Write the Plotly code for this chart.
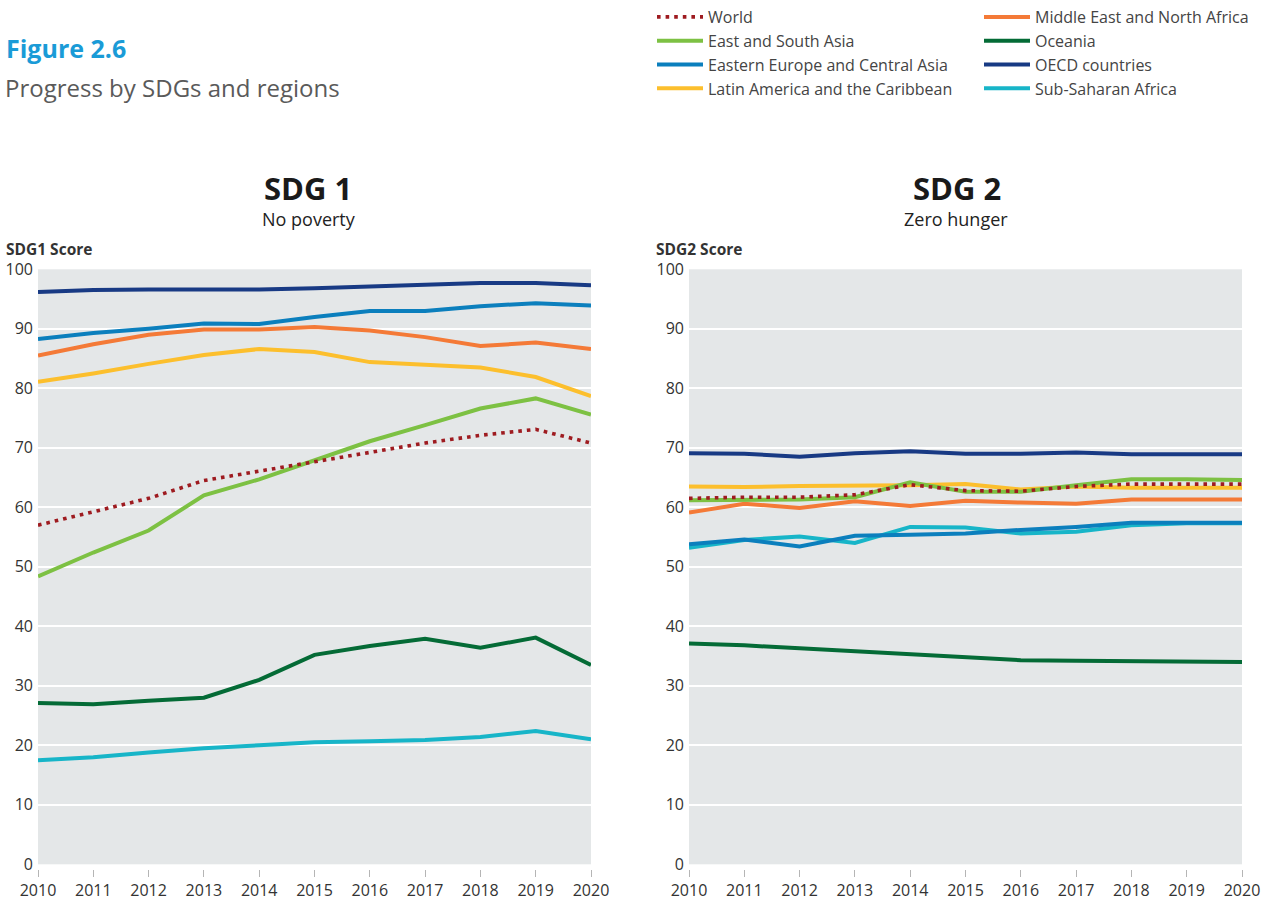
import plotly.graph_objects as go

years = list(range(2010, 2021))
tick_years = [2010, 2011, 2012, 2013, 2014, 2015, 2016, 2017, 2018, 2019, 2020]
y_ticks = [0, 10, 20, 30, 40, 50, 60, 70, 80, 90, 100]

regions = [
    "World",
    "East and South Asia",
    "Eastern Europe and Central Asia",
    "Latin America and the Caribbean",
    "Middle East and North Africa",
    "Oceania",
    "OECD countries",
    "Sub-Saharan Africa",
]

colors = {
    "World": "#9e1b20",
    "East and South Asia": "#7dc143",
    "Eastern Europe and Central Asia": "#0b7fbd",
    "Latin America and the Caribbean": "#fcbf2d",
    "Middle East and North Africa": "#f47a37",
    "Oceania": "#046b36",
    "OECD countries": "#183a84",
    "Sub-Saharan Africa": "#17b5c8",
}

# SDG 1 - No poverty
sdg1_world = [57.0, 59.2, 61.5, 64.5, 66.1, 67.7, 69.2, 70.8, 72.1, 73.1, 70.8]
sdg1_esa = [48.4, 52.4, 56.1, 62.0, 64.7, 67.9, 71.1, 73.8, 76.6, 78.3, 75.6]
sdg1_eeca = [88.3, 89.3, 90.0, 90.9, 90.8, 92.0, 93.0, 93.0, 93.8, 94.3, 93.9]
sdg1_lac = [81.1, 82.5, 84.1, 85.6, 86.6, 86.1, 84.4, 84.0, 83.5, 81.9, 78.7]
sdg1_mena = [85.5, 87.4, 89.0, 89.9, 89.9, 90.3, 89.7, 88.6, 87.1, 87.7, 86.6]
sdg1_oceania = [27.1, 26.9, 27.5, 28.0, 31.0, 35.2, 36.7, 37.9, 36.4, 38.1, 33.5]
sdg1_oecd = [96.2, 96.5, 96.6, 96.6, 96.6, 96.8, 97.1, 97.4, 97.7, 97.7, 97.3]
sdg1_ssa = [17.5, 18.0, 18.8, 19.5, 20.0, 20.5, 20.7, 20.9, 21.4, 22.4, 21.0]

# SDG 2 - Zero hunger
sdg2_world = [61.5, 61.7, 61.7, 62.1, 63.8, 62.8, 62.7, 63.5, 63.9, 63.9, 63.9]
sdg2_esa = [61.2, 61.3, 61.3, 61.7, 64.2, 62.6, 62.6, 63.7, 64.7, 64.7, 64.6]
sdg2_eeca = [53.8, 54.6, 53.4, 55.2, 55.4, 55.6, 56.2, 56.7, 57.4, 57.4, 57.4]
sdg2_lac = [63.5, 63.4, 63.6, 63.6, 63.7, 63.9, 63.0, 63.5, 63.3, 63.3, 63.3]
sdg2_mena = [59.1, 60.6, 59.9, 61.0, 60.2, 61.1, 60.8, 60.6, 61.3, 61.3, 61.3]
sdg2_oceania = [37.1, 36.8, 36.3, 35.8, 35.3, 34.8, 34.3, 34.2, 34.1, 34.0, 34.0]
sdg2_oecd = [69.1, 69.0, 68.5, 69.1, 69.4, 69.0, 69.0, 69.2, 68.9, 68.9, 68.9]
sdg2_ssa = [53.2, 54.5, 55.1, 54.0, 56.7, 56.6, 55.6, 55.9, 57.0, 57.3, 57.3]

sdg1 = {
    "World": sdg1_world, "East and South Asia": sdg1_esa,
    "Eastern Europe and Central Asia": sdg1_eeca, "Latin America and the Caribbean": sdg1_lac,
    "Middle East and North Africa": sdg1_mena, "Oceania": sdg1_oceania,
    "OECD countries": sdg1_oecd, "Sub-Saharan Africa": sdg1_ssa,
}
sdg2 = {
    "World": sdg2_world, "East and South Asia": sdg2_esa,
    "Eastern Europe and Central Asia": sdg2_eeca, "Latin America and the Caribbean": sdg2_lac,
    "Middle East and North Africa": sdg2_mena, "Oceania": sdg2_oceania,
    "OECD countries": sdg2_oecd, "Sub-Saharan Africa": sdg2_ssa,
}

# drawing order (bottom to top)
draw_order = [
    "OECD countries", "Oceania", "Sub-Saharan Africa", "Middle East and North Africa",
    "Latin America and the Caribbean", "Eastern Europe and Central Asia",
    "East and South Asia", "World",
]
legend_col = {
    "World": "legend", "East and South Asia": "legend",
    "Eastern Europe and Central Asia": "legend", "Latin America and the Caribbean": "legend",
    "Middle East and North Africa": "legend2", "Oceania": "legend2",
    "OECD countries": "legend2", "Sub-Saharan Africa": "legend2",
}

FONT = "Open Sans"
fig = go.Figure()

for panel, data, xa, ya in [(1, sdg1, "x", "y"), (2, sdg2, "x2", "y2")]:
    for name in draw_order:
        if name == "World":
            line = dict(color=colors[name], width=3.6, dash="3.6px,5px")
        else:
            line = dict(color=colors[name], width=4)
        fig.add_trace(go.Scatter(
            x=years, y=data[name], mode="lines", name=name, line=line,
            xaxis=xa, yaxis=ya, showlegend=(panel == 1),
            legend=legend_col[name], legendrank=regions.index(name) + 1,
            hoverinfo="skip",
        ))

# invisible traces to carry the tick axes
fig.add_trace(go.Scatter(x=[], y=[], xaxis="x3", yaxis="y", showlegend=False, hoverinfo="skip"))
fig.add_trace(go.Scatter(x=[], y=[], xaxis="x4", yaxis="y2", showlegend=False, hoverinfo="skip"))

ydom = [1 - 864.3 / 902, 1 - 269.3 / 902]
x1dom = [38 / 1266, 591 / 1266]
x2dom = [689 / 1266, 1242 / 1266]
tickpos = 1 - 869 / 902

base_x = dict(range=[2010, 2020], showgrid=False, zeroline=False, showline=False,
              showticklabels=False, ticks="", fixedrange=True)
tick_x = dict(range=[2010, 2020], tickvals=tick_years, ticktext=[str(t) for t in tick_years],
              showgrid=False, zeroline=False, showline=False, ticks="outside", ticklen=7,
              tickwidth=1, tickcolor="#b5b5b5", anchor="free", position=tickpos,
              tickfont=dict(family=FONT, size=16, color="#333333"), side="bottom")
base_y = dict(range=[0, 100], tickvals=y_ticks, showgrid=True, gridcolor="#ffffff",
              gridwidth=1.5, zeroline=False, showline=False, ticks="",
              tickfont=dict(family=FONT, size=16, color="#333333"), ticklabelstandoff=4)

legend_common = dict(xanchor="left", yanchor="top", orientation="v", itemwidth=46,
                     bgcolor="rgba(0,0,0,0)", tracegroupgap=0,
                     font=dict(family=FONT, size=16, color="#444444"))

fig.update_layout(
    width=1266, height=902,
    margin=dict(l=0, r=0, t=0, b=0, autoexpand=False),
    paper_bgcolor="#ffffff", plot_bgcolor="#e4e7e8",
    font=dict(family=FONT, color="#333333"),
    xaxis=dict(domain=x1dom, anchor="y", **base_x),
    xaxis2=dict(domain=x2dom, anchor="y2", **base_x),
    xaxis3=dict(domain=x1dom, overlaying="x", **tick_x),
    xaxis4=dict(domain=x2dom, overlaying="x2", **tick_x),
    yaxis=dict(domain=ydom, anchor="x", **base_y),
    yaxis2=dict(domain=ydom, anchor="x2", **base_y),
    legend=dict(x=652 / 1266, y=1.0, **legend_common),
    legend2=dict(x=979 / 1266, y=1.0, **legend_common),
)

def ann(text, xpx, ypx, size, color, xanchor="left", weight="normal", family=FONT):
    fig.add_annotation(text=text, x=xpx / 1266, y=1 - ypx / 902, xref="paper", yref="paper",
                       xanchor=xanchor, yanchor="middle", showarrow=False, borderpad=0,
                       font=dict(family=family, size=size, color=color, weight=weight))

ann("Figure 2.6", 5, 48, 25, "#1a9bd7", weight="bold")
ann("Progress by SDGs and regions", 4, 88, 24, "#5a5a5a")
ann("SDG 1", 308, 188, 31, "#1a1a1a", xanchor="center", weight="bold")
ann("No poverty", 309, 219, 18, "#222222", xanchor="center")
ann("SDG 2", 957, 188, 31, "#1a1a1a", xanchor="center", weight="bold")
ann("Zero hunger", 956, 219, 18, "#222222", xanchor="center")
ann("SDG1 Score", 5, 249, 15.5, "#333333", weight="bold")
ann("SDG2 Score", 655, 249, 15.5, "#333333", weight="bold")

fig.write_html("out.html", config={"displayModeBar": False},
               post_script="document.body.style.margin='0px';document.body.style.padding='0px';")
